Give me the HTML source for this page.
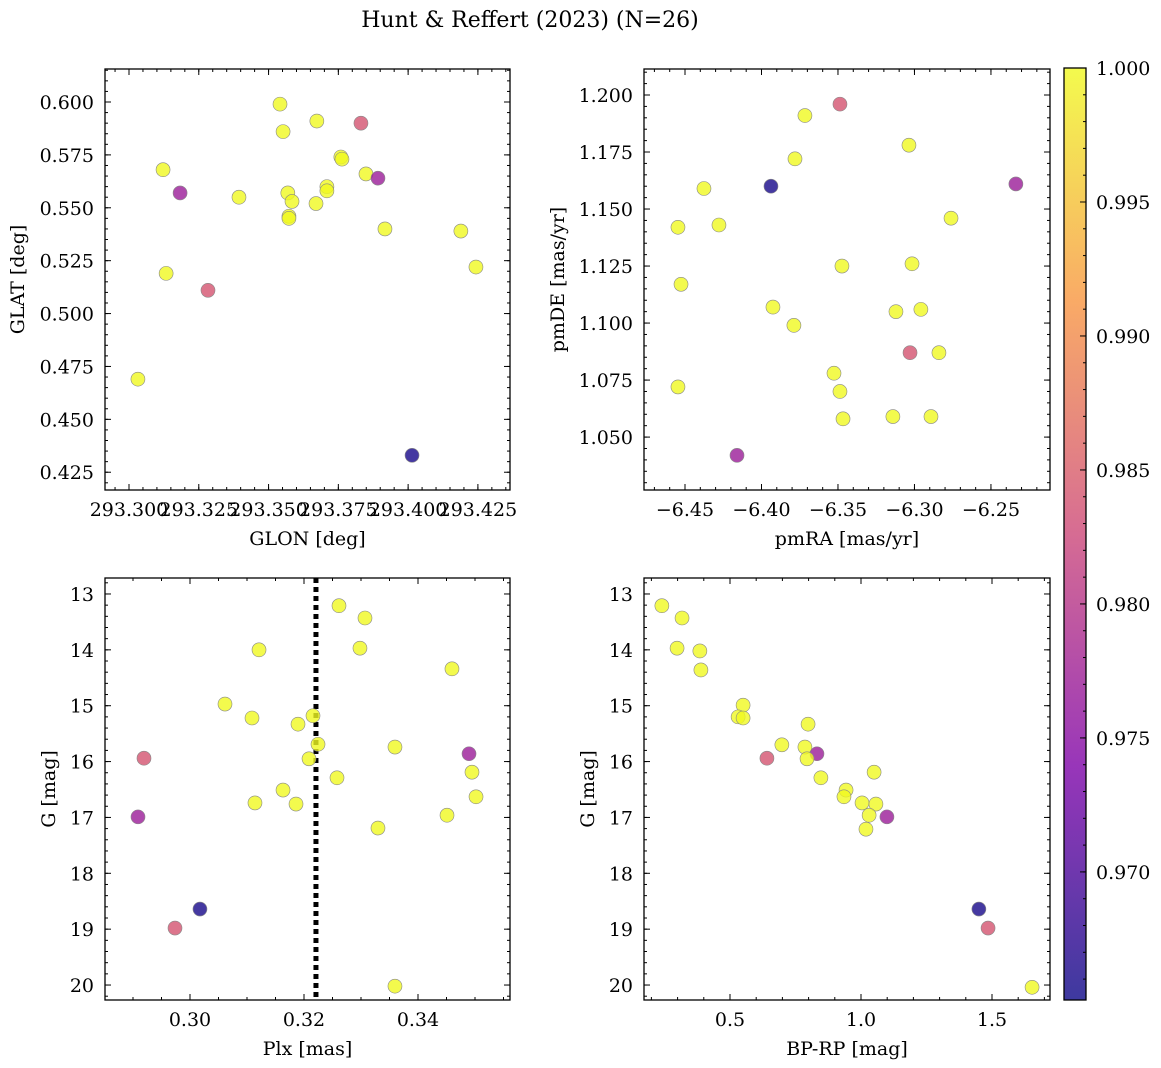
<!DOCTYPE html>
<html><head><meta charset="utf-8"><style>
body{margin:0;background:#fff;}
svg{display:block;font-family:"DejaVu Serif","Liberation Serif",serif;}
</style></head><body>
<svg id="fig" width="1161" height="1068" xmlns="http://www.w3.org/2000/svg">
<text x="530" y="27" font-size="22" text-anchor="middle">Hunt &amp; Reffert (2023) (N=26)</text>
</svg>
<script>
// Panel 1: GLON vs GLAT
const glon=[293.3541,293.3552,293.3673,293.3831,293.3122,293.3183,293.3394,293.3569,293.3584,293.3573,293.3573,293.3670,293.3709,293.3709,293.3759,293.3763,293.3849,293.3892,293.3917,293.4189,293.4243,293.3133,293.3283,293.3032,293.4014];
const glat=[0.599,0.586,0.591,0.590,0.568,0.557,0.555,0.557,0.553,0.546,0.545,0.552,0.560,0.558,0.574,0.573,0.566,0.564,0.540,0.539,0.522,0.519,0.511,0.469,0.433];
const prob1=[1,1,1,0.984,1,0.977,1,1,1,1,1,1,1,1,1,1,1,0.977,1,1,1,1,0.984,1,0.966];
// Panel 2: pmRA vs pmDE
const pmra=[-6.3487,-6.3716,-6.3781,-6.3036,-6.4376,-6.3938,-6.2337,-6.4278,-6.4546,-6.2761,-6.3474,-6.3016,-6.4526,-6.3925,-6.3121,-6.2958,-6.3788,-6.3029,-6.2840,-6.3526,-6.3487,-6.4546,-6.3467,-6.3141,-6.2892,-6.4160];
const pmde=[1.196,1.191,1.172,1.178,1.159,1.160,1.161,1.143,1.142,1.146,1.125,1.126,1.117,1.107,1.105,1.106,1.099,1.087,1.087,1.078,1.070,1.072,1.058,1.059,1.059,1.042];
const prob2=[0.984,1,1,1,1,0.966,0.977,1,1,1,1,1,1,1,1,1,1,0.984,1,1,1,1,1,1,1,0.977];
// Panel 3: Plx vs G
const plx=[0.32614,0.33070,0.31211,0.32982,0.34596,0.30614,0.31088,0.31895,0.32158,0.32246,0.33596,0.29193,0.34895,0.32088,0.34947,0.32579,0.31632,0.31140,0.31860,0.35018,0.34509,0.33298,0.29088,0.30175,0.29737,0.33596];
const g3=[13.21,13.43,14.00,13.97,14.34,14.97,15.22,15.33,15.18,15.69,15.74,15.94,15.86,15.95,16.19,16.29,16.51,16.74,16.76,16.63,16.96,17.19,16.99,18.64,18.98,20.02];
const prob3=[1,1,1,1,1,1,1,1,1,1,1,0.984,0.977,1,1,1,1,1,1,1,1,1,0.977,0.966,0.984,1];
const plxLine=0.3221;
// Panel 4: BP-RP vs G
const bprp=[0.240,0.317,0.298,0.385,0.389,0.550,0.531,0.550,0.798,0.698,0.786,0.641,0.832,0.794,1.050,0.847,0.943,0.935,1.004,1.057,1.031,1.019,1.099,1.450,1.485,1.653];
const g4=[13.21,13.43,13.97,14.02,14.36,14.99,15.20,15.22,15.33,15.70,15.74,15.94,15.86,15.95,16.19,16.29,16.51,16.63,16.74,16.76,16.96,17.21,16.99,18.64,18.98,20.04];
const prob4=[1,1,1,1,1,1,1,1,1,1,1,0.984,0.977,1,1,1,1,1,1,1,1,1,0.977,0.966,0.984,1];
// Colorbar
const cbTicks=[0.970,0.975,0.980,0.985,0.990,0.995,1.000];
const cbMin=0.96522,cbMax=1.000;

const FS=19;
const NS="http://www.w3.org/2000/svg";
const fig=document.getElementById('fig');
function el(t,a,p){const e=document.createElementNS(NS,t);for(const k in a)e.setAttribute(k,a[k]);(p||fig).appendChild(e);return e;}
const stops=[[0,[13,8,135]],[0.25,[126,3,168]],[0.5,[204,71,120]],[0.75,[248,149,64]],[1,[240,249,33]]];
function plasma(t){t=Math.max(0,Math.min(1,t));for(let i=1;i<stops.length;i++){if(t<=stops[i][0]){const a=stops[i-1],b=stops[i];const f=(t-a[0])/(b[0]-a[0]);const c=a[1].map((v,j)=>Math.round(v+(b[1][j]-v)*f));return `rgb(${c})`;}}return 'rgb(240,249,33)';}
function cmap(v){return plasma((v-cbMin)/(cbMax-cbMin));}
function fmt(v,d){return (v<0?'\u2212':'')+Math.abs(v).toFixed(d);}

function panel(o){
  const {x0,x1,y0,y1,xmin,xmax,ymin,ymax,inv}=o;
  const sx=v=>x0+(v-xmin)/(xmax-xmin)*(x1-x0);
  const sy=v=>inv? y0+(v-ymin)/(ymax-ymin)*(y1-y0) : y1-(v-ymin)/(ymax-ymin)*(y1-y0);
  const g=el('g',{});
  
  
  if(o.vline!==undefined){const l=el('line',{x1:sx(o.vline),x2:sx(o.vline),y1:y0,y2:y1,stroke:'#000','stroke-width':5,'stroke-dasharray':'5,4'},g);
    }
  o.xs.forEach((xv,i)=>{const c=el('circle',{cx:sx(xv),cy:sy(o.ys[i]),r:7,fill:cmap(o.c[i]),'fill-opacity':0.8,stroke:'#888','stroke-width':0.6},g);
    });
  const fr=el('rect',{x:x0,y:y0,width:x1-x0,height:y1-y0,fill:'none',stroke:'#000','stroke-width':1.3},g);
  
  const eps=1e-9;
  for(let v=Math.ceil(xmin/o.xmin_step-eps)*o.xmin_step;v<=xmax+eps;v+=o.xmin_step){const X=sx(v);
    el('line',{x1:X,x2:X,y1:y1,y2:y1-3,stroke:'#000'},g);el('line',{x1:X,x2:X,y1:y0,y2:y0+3,stroke:'#000'},g);}
  for(let v=Math.ceil(ymin/o.ymin_step-eps)*o.ymin_step;v<=ymax+eps;v+=o.ymin_step){const Y=sy(v);
    el('line',{x1:x0,x2:x0+3,y1:Y,y2:Y,stroke:'#000'},g);el('line',{x1:x1,x2:x1-3,y1:Y,y2:Y,stroke:'#000'},g);}
  for(let v=Math.ceil(xmin/o.xstep-eps)*o.xstep;v<=xmax+eps;v+=o.xstep){const X=sx(v);
    el('line',{x1:X,x2:X,y1:y1,y2:y1-6,stroke:'#000'},g);el('line',{x1:X,x2:X,y1:y0,y2:y0+6,stroke:'#000'},g);
    const t=el('text',{x:X,y:y1+26,'font-size':FS,'text-anchor':'middle'},g);t.textContent=fmt(v,o.xd);
    }
  for(let v=Math.ceil(ymin/o.ystep-eps)*o.ystep;v<=ymax+eps;v+=o.ystep){const Y=sy(v);
    el('line',{x1:x0,x2:x0+6,y1:Y,y2:Y,stroke:'#000'},g);el('line',{x1:x1,x2:x1-6,y1:Y,y2:Y,stroke:'#000'},g);
    const t=el('text',{x:x0-11,y:Y+7,'font-size':FS,'text-anchor':'end'},g);t.textContent=fmt(v,o.yd);
    }
  const xl=el('text',{x:(x0+x1)/2,y:y1+55,'font-size':FS,'text-anchor':'middle'},g);xl.textContent=o.xlabel;
  
  const yx=o.ylx,yy=(y0+y1)/2;
  const yl=el('text',{x:yx,y:yy,'font-size':FS,'text-anchor':'middle',transform:`rotate(-90 ${yx} ${yy})`},g);yl.textContent=o.ylabel;
  
}
panel({name:'glon-glat-panel',x0:105,x1:510,y0:69,y1:490,xmin:293.2914,xmax:293.4365,ymin:0.4166,ymax:0.6156,xstep:0.025,xmin_step:0.005,ystep:0.025,ymin_step:0.005,xd:3,yd:3,xs:glon,ys:glat,c:prob1,xlabel:'GLON [deg]',ylabel:'GLAT [deg]',ylx:24});
panel({name:'proper-motion-panel',x0:644,x1:1050,y0:69,y1:490,xmin:-6.4768,xmax:-6.2114,ymin:1.0268,ymax:1.2114,xstep:0.05,xmin_step:0.01,ystep:0.025,ymin_step:0.005,xd:2,yd:3,xs:pmra,ys:pmde,c:prob2,xlabel:'pmRA [mas/yr]',ylabel:'pmDE [mas/yr]',ylx:564});
panel({name:'parallax-mag-panel',x0:105,x1:510,y0:578,y1:1000,xmin:0.28509,xmax:0.35614,ymin:12.714,ymax:20.268,inv:true,xstep:0.02,xmin_step:0.005,ystep:1,ymin_step:0.2,xd:2,yd:0,xs:plx,ys:g3,c:prob3,xlabel:'Plx [mas]',ylabel:'G [mag]',ylx:55,vline:plxLine});
panel({name:'cmd-panel',x0:644,x1:1050,y0:578,y1:1000,xmin:0.1718,xmax:1.7214,ymin:12.714,ymax:20.268,inv:true,xstep:0.5,xmin_step:0.1,ystep:1,ymin_step:0.2,xd:1,yd:0,xs:bprp,ys:g4,c:prob4,xlabel:'BP-RP [mag]',ylabel:'G [mag]',ylx:594});
// colorbar
(function(){
  const x0=1064,x1=1086,y0=68,y1=1000;
  const g=el('g',{});
  const d=el('defs',{},g);const lg=el('linearGradient',{id:'cb',x1:0,y1:1,x2:0,y2:0},d);
  for(let i=0;i<=20;i++)el('stop',{offset:i/20,'stop-color':plasma(i/20),'stop-opacity':0.8},lg);
  el('rect',{x:x0,y:y0,width:x1-x0,height:y1-y0,fill:'url(#cb)'},g);
  el('rect',{x:x0,y:y0,width:x1-x0,height:y1-y0,fill:'none',stroke:'#000','stroke-width':1.3},g);
  const sy=v=>y1-(v-cbMin)/(cbMax-cbMin)*(y1-y0);
  for(let v=0.966;v<=1.0005;v+=0.001){el('line',{x1:x1,x2:x1-3,y1:sy(v),y2:sy(v),stroke:'#000'},g);}
  cbTicks.forEach(v=>{const Y=sy(v);el('line',{x1:x1,x2:x1-6,y1:Y,y2:Y,stroke:'#000'},g);
    const t=el('text',{x:x1+10,y:Y+7,'font-size':FS},g);t.textContent=v.toFixed(3);
    });
})();
</script>
</body></html>
